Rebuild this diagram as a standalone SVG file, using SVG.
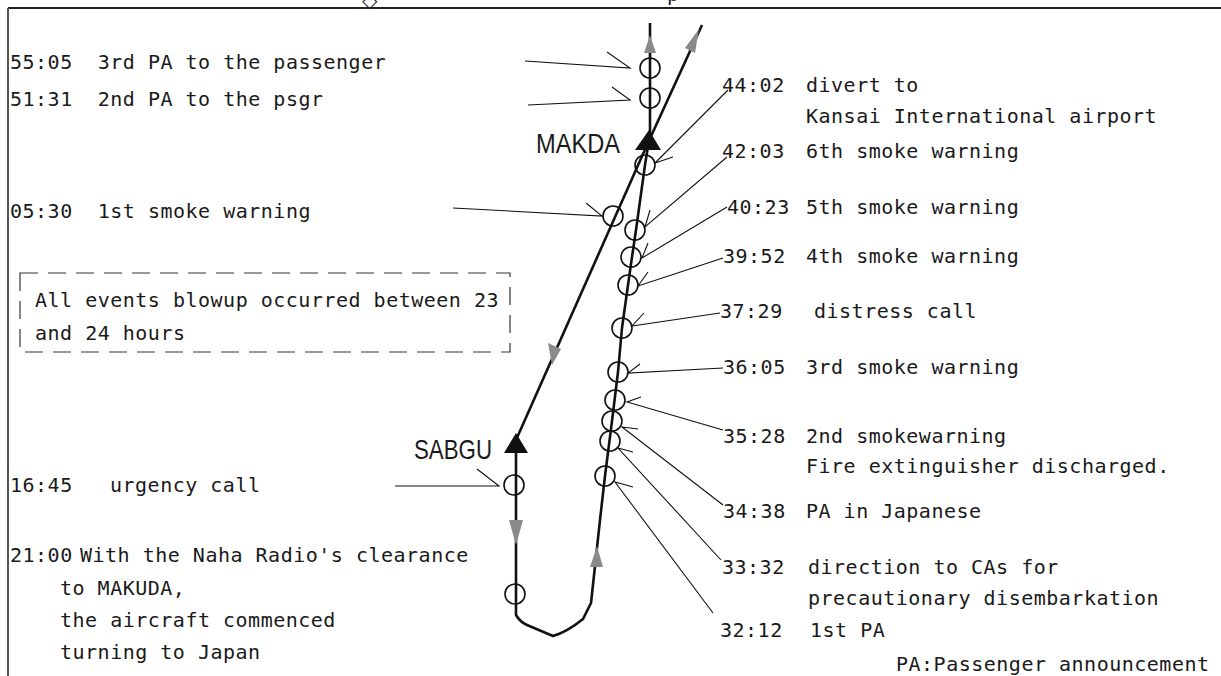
<svg xmlns="http://www.w3.org/2000/svg" width="1221" height="676" viewBox="0 0 1221 676">
<style>
.t{font-family:"DejaVu Sans Mono","Liberation Mono",monospace;font-size:20px;letter-spacing:0.5px;fill:#1a1a1a;white-space:pre}
.wp{font-family:"Liberation Sans",Arial,sans-serif;font-size:28px;fill:#1a1a1a}
.trk{fill:none;stroke:#111;stroke-width:2.6;stroke-linejoin:round}
.c{fill:none;stroke:#111;stroke-width:1.6}
.ld{fill:none;stroke:#111;stroke-width:1.1}
.ga{fill:#8a8a8a}
</style>
<rect width="1221" height="676" fill="#fff"/>
<g id="frame">
<line x1="8" y1="8" x2="1221" y2="8" stroke="#222" stroke-width="2"/>
<line x1="8" y1="8" x2="8" y2="676" stroke="#555" stroke-width="2"/>
<text x="362" y="7" font-family="DejaVu Sans,sans-serif" font-size="20" fill="#222">◇</text>
<text x="667" y="1" class="t">p</text>
</g>
<g id="connectors">
<path class="trk" d="M650,140 L650,23"/>
<path class="trk" d="M647,145 L702,25"/>
<path class="trk" d="M647,145 L516,440"/>
<path class="trk" d="M516,440 L516,615 Q520,622 527,625 L553,636 Q567,632 583,619 L591,603 L600,520 L605,476 L612,421 L618,372 L622,328 L628,285 L632,257 L636,230 L645,165 L649,140"/>
<polygon class="ga" points="650,35 644,53 656,53"/>
<polygon class="ga" points="699,29 685,48 695,53"/>
<polygon class="ga" points="552,365 548,343 561,349"/>
<polygon class="ga" points="516,545 509,520 523,520"/>
<polygon class="ga" points="597,546 590,567 603,567"/>
<path class="ld" d="M525,61 L630,68 L607,52"/>
<path class="ld" d="M528,105 L630,100 L612,87"/>
<path class="ld" d="M453,208 L602,216 L586,203"/>
<path class="ld" d="M395,486 L499,486 L477,469"/>
<path class="ld" d="M728,90 L655,163 L673,157"/>
<path class="ld" d="M727,157 L645,227 L650,210"/>
<path class="ld" d="M727,207 L642,258 L648,243"/>
<path class="ld" d="M723,258 L638,286 L648,272"/>
<path class="ld" d="M720,313 L632,326 L644,313"/>
<path class="ld" d="M723,368 L628,373 L640,364"/>
<path class="ld" d="M723,430 L627,402 L641,397"/>
<path class="ld" d="M723,505 L622,427 L638,429"/>
<path class="ld" d="M721,560 L618,448 L633,452"/>
<path class="ld" d="M713,613 L615,482 L633,487"/>
</g>
<g id="waypoint-makda">
<polygon points="649,130 635,150 661,150" fill="#111"/>
<text class="wp" x="536" y="153" textLength="84" lengthAdjust="spacingAndGlyphs">MAKDA</text>
</g>
<g id="waypoint-sabgu">
<polygon points="516,433 504,453 528,453" fill="#111"/>
<text class="wp" x="414" y="459" textLength="78" lengthAdjust="spacingAndGlyphs">SABGU</text>
</g>
<g id="ev-5505"><circle class="c" cx="650" cy="68" r="10"/><text class="t" x="10" y="69">55:05  3rd PA to the passenger</text></g>
<g id="ev-5131"><circle class="c" cx="650" cy="98" r="10"/><text class="t" x="10" y="106">51:31  2nd PA to the psgr</text></g>
<g id="ev-0530"><circle class="c" cx="613" cy="216" r="10"/><text class="t" x="10" y="218">05:30  1st smoke warning</text></g>
<g id="ev-1645"><circle class="c" cx="514" cy="485" r="10"/><text class="t" x="10" y="492">16:45</text><text class="t" x="110" y="492">urgency call</text></g>
<g id="ev-2100"><circle class="c" cx="515" cy="594" r="10"/>
<text class="t" x="10" y="562">21:00</text><text class="t" x="80" y="562">With the Naha Radio's clearance</text>
<text class="t" x="60" y="595">to MAKUDA,</text>
<text class="t" x="60" y="627">the aircraft commenced</text>
<text class="t" x="60" y="659">turning to Japan</text></g>
<g id="note">
<rect x="20" y="273" width="490" height="79" fill="none" stroke="#333" stroke-width="1.2" stroke-dasharray="18 10"/>
<text class="t" x="35" y="307">All events blowup occurred between 23</text>
<text class="t" x="35" y="340">and 24 hours</text>
</g>
<g id="ev-4402"><circle class="c" cx="645" cy="165" r="10"/><text class="t" x="722" y="92">44:02</text><text class="t" x="806" y="92">divert to</text><text class="t" x="806" y="123">Kansai International airport</text></g>
<g id="ev-4203"><circle class="c" cx="635" cy="230" r="10"/><text class="t" x="722" y="158">42:03</text><text class="t" x="806" y="158">6th smoke warning</text></g>
<g id="ev-4023"><circle class="c" cx="631" cy="257" r="10"/><text class="t" x="727" y="214">40:23</text><text class="t" x="806" y="214">5th smoke warning</text></g>
<g id="ev-3952"><circle class="c" cx="628" cy="285" r="10"/><text class="t" x="723" y="263">39:52</text><text class="t" x="806" y="263">4th smoke warning</text></g>
<g id="ev-3729"><circle class="c" cx="622" cy="328" r="10"/><text class="t" x="720" y="318">37:29</text><text class="t" x="814" y="318">distress call</text></g>
<g id="ev-3605"><circle class="c" cx="618" cy="372" r="10"/><text class="t" x="723" y="374">36:05</text><text class="t" x="806" y="374">3rd smoke warning</text></g>
<g id="ev-3528"><circle class="c" cx="615" cy="400" r="10"/><text class="t" x="723" y="443">35:28</text><text class="t" x="806" y="443">2nd smokewarning</text><text class="t" x="806" y="473">Fire extinguisher discharged.</text></g>
<g id="ev-3438"><circle class="c" cx="612" cy="421" r="10"/><text class="t" x="723" y="518">34:38</text><text class="t" x="806" y="518">PA in Japanese</text></g>
<g id="ev-3332"><circle class="c" cx="610" cy="441" r="10"/><text class="t" x="722" y="574">33:32</text><text class="t" x="808" y="574">direction to CAs for</text><text class="t" x="808" y="605">precautionary disembarkation</text></g>
<g id="ev-3212"><circle class="c" cx="605" cy="476" r="10"/><text class="t" x="720" y="637">32:12</text><text class="t" x="810" y="637">1st PA</text></g>
<text class="t" x="896" y="671">PA:Passenger announcement</text>
</svg>
